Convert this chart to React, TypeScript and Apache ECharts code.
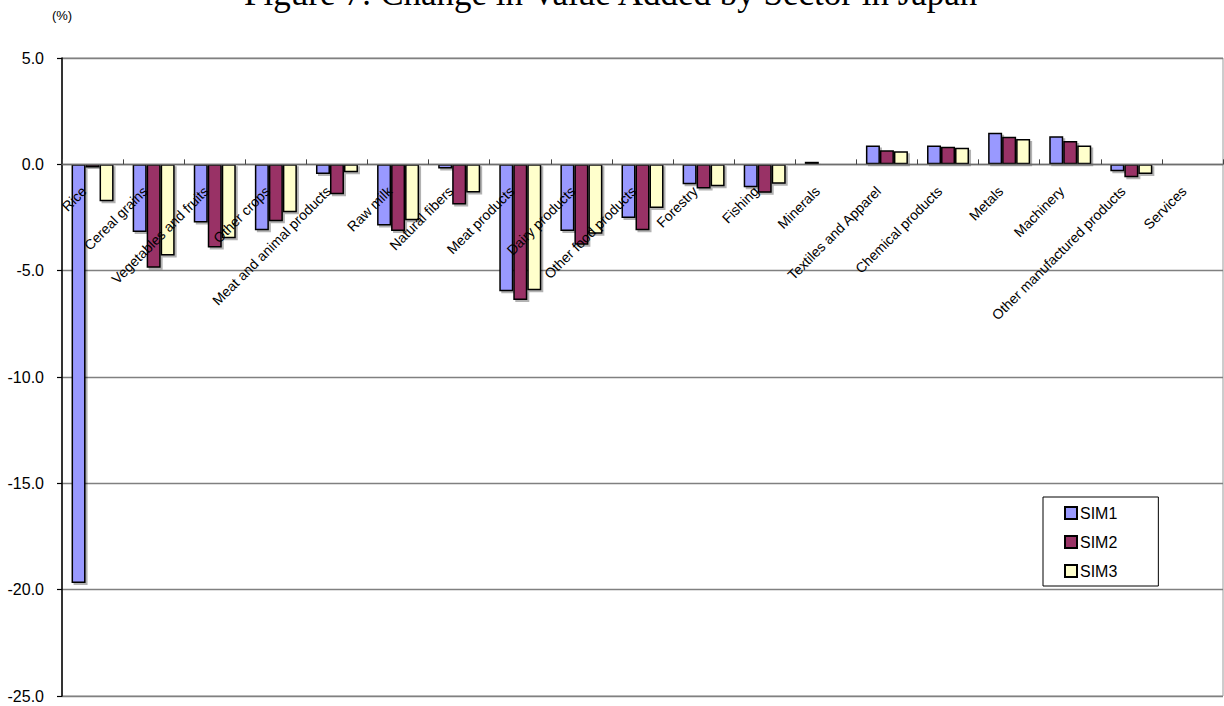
import React, { useEffect, useRef } from "react";
import * as echarts from "echarts";

const TITLE = "Figure 7: Change in Value Added by Sector in Japan";
const UNIT = "(%)";

const categories = [
  "Rice",
  "Cereal grains",
  "Vegetables and fruits",
  "Other crops",
  "Meat and animal products",
  "Raw milk",
  "Natural fibers",
  "Meat products",
  "Dairy products",
  "Other food products",
  "Forestry",
  "Fishing",
  "Minerals",
  "Textiles and Apparel",
  "Chemical products",
  "Metals",
  "Machinery",
  "Other manufactured products",
  "Services",
];

const sim1 = [-19.69, -3.18, -2.73, -3.1, -0.45, -2.88, -0.2, -5.97, -3.13, -2.52, -0.94, -1.08, 0.12, 0.89, 0.89, 1.49, 1.32, -0.33, -0.01];
const sim2 = [-0.15, -4.86, -3.91, -2.68, -1.41, -3.13, -1.89, -6.38, -3.78, -3.1, -1.14, -1.34, 0.02, 0.66, 0.83, 1.3, 1.1, -0.61, -0.05];
const sim3 = [-1.74, -4.29, -3.47, -2.25, -0.37, -2.63, -1.33, -5.92, -3.26, -2.05, -1.03, -0.91, -0.05, 0.61, 0.78, 1.19, 0.88, -0.45, -0.05];

const seriesNames = ["SIM1", "SIM2", "SIM3"];
const seriesColors = ["#9999FF", "#993366", "#FFFFCC"];

const Y_MIN = -25;
const Y_MAX = 5;

const SANS = "'Liberation Sans', Arial, sans-serif";
const SERIF = "'Liberation Serif', 'Times New Roman', serif";

export default function App() {
  const ref = useRef<HTMLDivElement>(null);

  useEffect(() => {
    if (!ref.current) return;
    const chart = echarts.init(ref.current, undefined, { renderer: "svg" });
    const data = [sim1, sim2, sim3];
    const gridTop = 58;
    const gridBottom = 10;
    const plotH = 706 - gridTop - gridBottom;
    // distance of the zero line above the bottom of the plot
    const zeroOffset = (plotH * (0 - Y_MIN)) / (Y_MAX - Y_MIN);
    chart.setOption({
      animation: false,
      backgroundColor: "#ffffff",
      textStyle: { fontFamily: SANS },
      graphic: [
        {
          type: "text",
          left: "center",
          top: -24,
          style: {
            text: TITLE,
            font: `35px ${SERIF}`,
            fill: "#000",
          },
        },
        {
          type: "text",
          x: 62,
          y: 15,
          style: {
            text: UNIT,
            font: `13px ${SANS}`,
            fill: "#000",
            align: "center",
            verticalAlign: "middle",
          },
        },
      ],
      legend: {
        orient: "vertical",
        left: 1043,
        top: 497,
        width: 97,
        padding: [8, 41, 7, 21],
        itemWidth: 12,
        itemHeight: 12,
        itemGap: 13,
        borderColor: "#000",
        borderWidth: 1,
        backgroundColor: "#fff",
        icon: "rect",
        textStyle: { fontSize: 16, fontFamily: SANS, color: "#000", padding: [0, 0, 0, -2] },
        data: seriesNames,
      },
      grid: {
        left: 62,
        right: 1,
        top: gridTop,
        bottom: gridBottom,
        show: true,
        borderColor: "#9a9a9a",
        borderWidth: 1,
        containLabel: false,
        outerBoundsMode: "none",
      },
      xAxis: {
        type: "category",
        data: categories,
        position: "bottom",
        offset: -zeroOffset,
        z: 20,
        axisLine: { onZero: false, lineStyle: { color: "#6e6e6e", width: 1.3 } },
        axisTick: { show: true, inside: true, length: 5, lineStyle: { color: "#444", width: 1 } },
        axisLabel: {
          interval: 0,
          rotate: 45,
          margin: 16,
          padding: [0, 12, 0, 0],
          fontSize: 14,
          fontFamily: SANS,
          color: "#000",
          hideOverlap: false,
        },
        splitLine: { show: false },
      },
      yAxis: {
        type: "value",
        min: Y_MIN,
        max: Y_MAX,
        interval: 5,
        axisLine: { show: true, lineStyle: { color: "#000", width: 1.5 } },
        axisTick: { show: true, inside: false, length: 5, lineStyle: { color: "#000", width: 1.2 } },
        axisLabel: {
          margin: 18,
          fontSize: 16,
          fontFamily: SANS,
          color: "#000",
          formatter: (v: number) => v.toFixed(1),
        },
        splitLine: { show: true, lineStyle: { color: "#808080", width: 1.3 } },
      },
      series: seriesNames.map((name, i) => ({
        name,
        type: "bar",
        data: data[i],
        barWidth: 14,
        barGap: "0%",
        itemStyle: {
          color: seriesColors[i],
          borderColor: "#000",
          borderWidth: 1.5,
          shadowColor: "rgba(0,0,0,0.3)",
          shadowOffsetX: 2,
          shadowOffsetY: 2,
          shadowBlur: 0,
        },
        emphasis: { disabled: true },
      })),
    });
    return () => chart.dispose();
  }, []);

  return (
    <div
      ref={ref}
      style={{ position: "fixed", left: 0, top: 0, width: 1224, height: 706, background: "#fff" }}
    />
  );
}
